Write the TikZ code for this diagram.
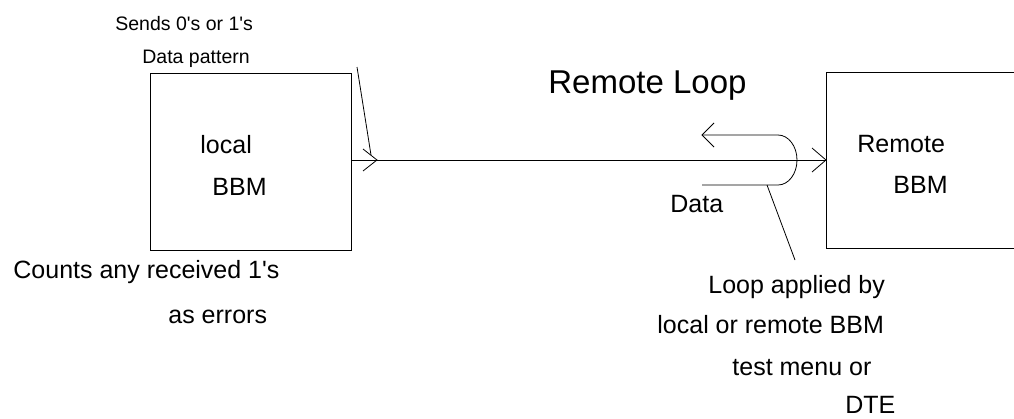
\documentclass[tikz,border=0pt]{standalone}
\usepackage{fontspec}
\setmainfont{Liberation Sans}
\begin{document}
\begin{tikzpicture}[x=1pt,y=-1pt,line width=0.8pt,
  box/.style={draw,inner sep=0,anchor=north west},
  lbl/.style={anchor=base west,inner sep=0,font=\fontsize{25}{30}\selectfont},
  smalllbl/.style={anchor=base west,inner sep=0,font=\fontsize{19.5}{23}\selectfont},
  titlelbl/.style={anchor=base west,inner sep=0,font=\fontsize{33}{40}\selectfont}]
\useasboundingbox (0,0) rectangle (1014,418);
% boxes
\node[box,minimum width=201pt,minimum height=177pt] (local) at (150,73) {};
\node[box,minimum width=260pt,minimum height=176pt] (remote) at (826,72) {};
% main line
\coordinate (m) at (0,160);
\coordinate (a1) at (377,160);
\draw (local.east |- m) -- (remote.west |- m);
\draw ([shift={(-14,-11)}]a1) -- (a1) -- ([shift={(-14,11)}]a1);
\coordinate (a2) at (remote.west |- m);
\draw ([shift={(-14,-12)}]a2) -- (a2) -- ([shift={(-14,12)}]a2);
% loop
\coordinate (lt) at (702,135);
\coordinate (lu) at (778,135);
\coordinate (lb) at (702,185);
\draw (lt) -- (lu) arc[start angle=90,end angle=-90,x radius=19pt,y radius=25pt] -- (lb);
\draw ([shift={(12,-12)}]lt) -- (lt) -- ([shift={(12,12)}]lt);
% pointers
\coordinate (p1) at (357,67);
\coordinate (p1e) at (371,155);
\draw (p1) -- (p1e);
\coordinate (p2) at (767,185);
\coordinate (p2e) at (795,260);
\draw (p2) -- (p2e);
% texts
\node[smalllbl] (t1) at (115,30) {Sends 0\textquotesingle s or 1\textquotesingle s};
\node[smalllbl] (t2) at (142,63) {Data pattern};
\node[lbl] (t3) at (200,153) {local};
\node[lbl] (t4) at (212,195) {BBM};
\node[titlelbl] (t5) at (548,93) {Remote Loop};
\node[lbl] (t6) at (670,212) {Data};
\node[lbl] (t7) at (857,152) {Remote};
\node[lbl] (t8) at (893,193) {BBM};
\node[lbl] (t9) at (13,278) {Counts any received 1\textquotesingle s};
\node[lbl] (t10) at (168,323) {as errors};
\node[lbl] (t11) at (708,293) {Loop applied by};
\node[lbl] (t12) at (657,333) {local or remote BBM};
\node[lbl] (t13) at (732,375) {test menu or};
\node[lbl] (t14) at (845,413) {DTE};
\end{tikzpicture}
\end{document}
